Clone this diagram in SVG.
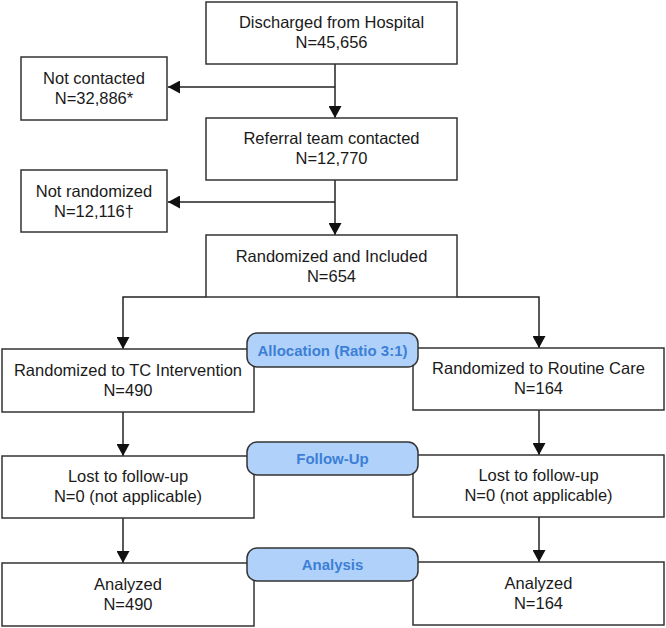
<svg xmlns="http://www.w3.org/2000/svg" width="666" height="628" viewBox="0 0 666 628">
<style>
.box{fill:#fff;stroke:#333;stroke-width:1.5}
.pill{fill:#b0d2fa;stroke:#333;stroke-width:1.5}
.t{font-family:"Liberation Sans",Arial,sans-serif;font-size:16.5px;fill:#1a1a1a;text-anchor:middle}
.p{font-family:"Liberation Sans",Arial,sans-serif;font-size:15px;font-weight:bold;fill:#3d7fd6;text-anchor:middle}
.c{fill:none;stroke:#222;stroke-width:1.5}
</style>
<defs>
<marker id="ah" markerUnits="userSpaceOnUse" markerWidth="12" markerHeight="13" refX="12" refY="6.5" orient="auto">
<path d="M0,0 L12,6.5 L0,13 z" fill="#111"/>
</marker>
</defs>
<g id="connectors">
<path class="c" d="M335,64 V118" marker-end="url(#ah)"/>
<path class="c" d="M335,87 H168" marker-end="url(#ah)"/>
<path class="c" d="M335,180 V235" marker-end="url(#ah)"/>
<path class="c" d="M335,202 H168" marker-end="url(#ah)"/>
<path class="c" d="M206,297 H123 V349" marker-end="url(#ah)"/>
<path class="c" d="M457,297 H539 V348" marker-end="url(#ah)"/>
<path class="c" d="M123,412 V456" marker-end="url(#ah)"/>
<path class="c" d="M539,410 V455" marker-end="url(#ah)"/>
<path class="c" d="M123,518 V563" marker-end="url(#ah)"/>
<path class="c" d="M539,517 V562" marker-end="url(#ah)"/>
</g>
<g id="discharged"><rect class="box" x="206" y="2" width="251" height="62"/><text class="t" x="331.5" y="28">Discharged from Hospital</text><text class="t" x="331.5" y="48">N=45,656</text></g>
<g id="not-contacted"><rect class="box" x="21" y="57" width="146" height="63"/><text class="t" x="94" y="83.5">Not contacted</text><text class="t" x="94" y="103.5">N=32,886*</text></g>
<g id="referral"><rect class="box" x="206" y="118" width="251" height="62"/><text class="t" x="331.5" y="144">Referral team contacted</text><text class="t" x="331.5" y="164">N=12,770</text></g>
<g id="not-randomized"><rect class="box" x="21" y="170" width="146" height="62"/><text class="t" x="94" y="196.5">Not randomized</text><text class="t" x="94" y="216.5">N=12,116†</text></g>
<g id="randomized"><rect class="box" x="206" y="235" width="251" height="62"/><text class="t" x="331.5" y="261.5">Randomized and Included</text><text class="t" x="331.5" y="281.5">N=654</text></g>
<g id="tc"><rect class="box" x="2" y="349" width="252" height="63"/><text class="t" x="128" y="375.5">Randomized to TC Intervention</text><text class="t" x="128" y="395.5">N=490</text></g>
<g id="routine"><rect class="box" x="413" y="348" width="251" height="62"/><text class="t" x="538.5" y="374">Randomized to Routine Care</text><text class="t" x="538.5" y="394">N=164</text></g>
<g id="lost-left"><rect class="box" x="2" y="456" width="252" height="62"/><text class="t" x="128" y="482">Lost to follow-up</text><text class="t" x="128" y="502">N=0 (not applicable)</text></g>
<g id="lost-right"><rect class="box" x="413" y="455" width="251" height="62"/><text class="t" x="538.5" y="481">Lost to follow-up</text><text class="t" x="538.5" y="501">N=0 (not applicable)</text></g>
<g id="analyzed-left"><rect class="box" x="2" y="563" width="252" height="63"/><text class="t" x="128" y="589.5">Analyzed</text><text class="t" x="128" y="609.5">N=490</text></g>
<g id="analyzed-right"><rect class="box" x="413" y="562" width="251" height="63"/><text class="t" x="538.5" y="588.5">Analyzed</text><text class="t" x="538.5" y="608.5">N=164</text></g>
<g id="allocation"><rect class="pill" x="247" y="333" width="171" height="34" rx="10"/><text class="p" x="332.5" y="355.5">Allocation (Ratio 3:1)</text></g>
<g id="follow-up"><rect class="pill" x="247" y="442" width="171" height="33" rx="10"/><text class="p" x="332.5" y="464">Follow-Up</text></g>
<g id="analysis"><rect class="pill" x="247" y="548" width="171" height="33" rx="10"/><text class="p" x="332.5" y="570">Analysis</text></g>
</svg>
